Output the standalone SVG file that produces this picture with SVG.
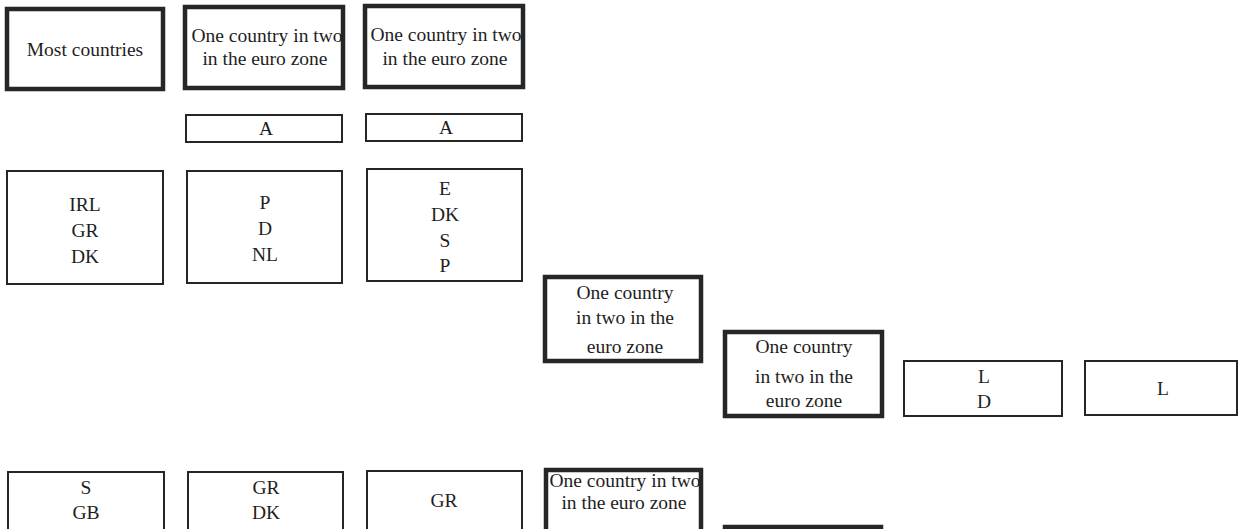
<svg xmlns="http://www.w3.org/2000/svg" width="1242" height="529" viewBox="0 0 1242 529">
<style>
rect{fill:#fff;stroke:#262626}
.thick{stroke-width:4.5}
.thin{stroke-width:2}
text{font-family:'Liberation Serif',Tinos,'Times New Roman',Times,'DejaVu Serif',serif;font-size:19.5px;fill:#1e1e1e;text-anchor:middle}
</style>
<rect x="0" y="0" width="1242" height="529" style="fill:#fff;stroke:none"/>
<g id="connectors"></g>
<g id="n-most"><rect class="thick" x="7" y="9" width="156" height="80"/><text x="85" y="56">Most countries</text></g>
<g id="n-top2"><rect class="thick" x="185" y="7" width="158" height="81"/><text x="267" y="42">One country in two</text><text x="265" y="65">in the euro zone</text></g>
<g id="n-top3"><rect class="thick" x="365" y="6" width="158" height="81"/><text x="446" y="41">One country in two</text><text x="445" y="65">in the euro zone</text></g>
<g id="n-a1"><rect class="thin" x="186" y="115" width="156" height="27"/><text x="266" y="135">A</text></g>
<g id="n-a2"><rect class="thin" x="366" y="114" width="156" height="27"/><text x="446" y="134">A</text></g>
<g id="n-r2a"><rect class="thin" x="7" y="171" width="156" height="113"/><text x="85" y="211">IRL</text><text x="85" y="237">GR</text><text x="85" y="263">DK</text></g>
<g id="n-r2b"><rect class="thin" x="187" y="171" width="155" height="112"/><text x="265" y="209">P</text><text x="265" y="235">D</text><text x="265" y="261">NL</text></g>
<g id="n-r2c"><rect class="thin" x="367" y="169" width="155" height="112"/><text x="445" y="195">E</text><text x="445" y="221">DK</text><text x="445" y="247">S</text><text x="445" y="272">P</text></g>
<g id="n-m1"><rect class="thick" x="545" y="277" width="156" height="84"/><text x="625" y="299">One country</text><text x="625" y="324">in two in the</text><text x="625" y="353">euro zone</text></g>
<g id="n-m2"><rect class="thick" x="725" y="332" width="157" height="84"/><text x="804" y="353">One country</text><text x="804" y="383">in two in the</text><text x="804" y="407">euro zone</text></g>
<g id="n-ld"><rect class="thin" x="904" y="361" width="158" height="55"/><text x="984" y="383">L</text><text x="984" y="408">D</text></g>
<g id="n-l"><rect class="thin" x="1085" y="361" width="152" height="54"/><text x="1163" y="395">L</text></g>
<g id="n-b1"><rect class="thin" x="8" y="472" width="156" height="80"/><text x="86" y="494">S</text><text x="86" y="519">GB</text></g>
<g id="n-b2"><rect class="thin" x="188" y="472" width="155" height="80"/><text x="266" y="494">GR</text><text x="266" y="519">DK</text></g>
<g id="n-b3"><rect class="thin" x="367" y="471" width="155" height="80"/><text x="444" y="507">GR</text></g>
<g id="n-b4"><rect class="thick" x="546" y="470" width="155" height="80"/><text x="625" y="487">One country in two</text><text x="624" y="509">in the euro zone</text></g>
<g id="n-b5"><rect class="thick" x="725" y="527" width="156" height="40"/></g>
</svg>
